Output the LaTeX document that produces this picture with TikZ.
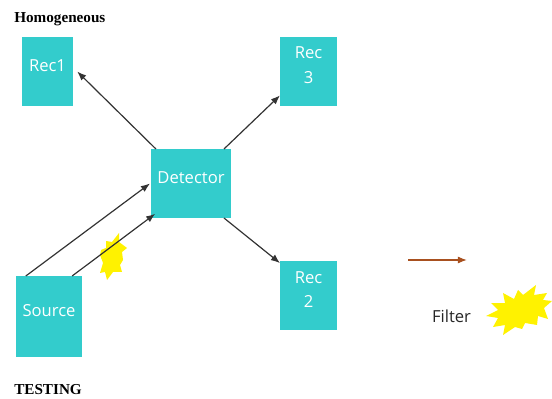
\documentclass[tikz,border=0pt]{standalone}
\usepackage{fontspec}
\setmainfont{Open Sans}
\newfontfamily\headfont{Liberation Serif}
\usetikzlibrary{positioning,arrows.meta}
\definecolor{boxteal}{HTML}{33CCCC}
\definecolor{arrowrust}{HTML}{A8501F}
\tikzset{
  box/.style={fill=boxteal, text=white, font=\fontsize{11.8}{17.7}\selectfont, align=center, inner sep=0pt, outer sep=0pt, text depth=8.5pt},
  link/.style={-{Latex[length=6.5pt,width=5pt]}, color=black!80, line width=0.85pt},
  burst/.style={fill=yellow, draw=none},
  head/.style={font=\headfont\bfseries\fontsize{10.8}{13}\selectfont, anchor=west, inner sep=0pt}
}

\begin{document}
\begin{tikzpicture}[x=0.025cm, y=-0.025cm]
  \useasboundingbox (0,0) rectangle (552,399);

  % Titles
  \node[head] (title) at (14,19) {Homogeneous};
  \node[head] (testing) at (14,390) {TESTING};

  % Boxes
  \node[box, minimum width=1.275cm, minimum height=1.725cm] (rec1) at (47.5,71.5) {Rec1};
  \node[box, minimum width=1.425cm, minimum height=1.725cm] (rec3) at (308.5,71.5) {Rec\\3};
  \node[box, minimum width=2cm, minimum height=1.725cm] (detector) at (191,183.5) {Detector};
  \node[box, minimum width=1.425cm, minimum height=1.725cm] (rec2) at (308.5,295.5) {Rec\\2};
  \node[box, minimum width=1.65cm, minimum height=2.025cm] (source) at (49,316.5) {Source};

  % Small burst on the lower beam
  \draw[burst] (101,250) -- (106,248) -- (106,241) -- (112,242) -- (119,233) -- (119,242) -- (127,248)
    -- (122,252) -- (123,260) -- (120,265) -- (122,272) -- (113,272) -- (107,280) -- (105,272)
    -- (100,273) -- (103,263) -- (100,255) -- cycle;

  % Beams
  \draw[link] ([xshift=3.5pt]detector.north west) -- ([xshift=3pt]rec1.east);
  \draw[link] ([xshift=-5pt]detector.north east) -- ([yshift=-17pt]rec3.west);
  \draw[link] ([xshift=-5pt]detector.south east) -- ([yshift=-1.5pt]rec2.north west);
  \draw[link] ([xshift=7pt]source.north west) -- ([xshift=-0.7pt]detector.west);
  \draw[link] ([xshift=-7pt]source.north east) -- ([xshift=3pt,yshift=3pt]detector.south west);

  % Legend
  \coordinate (legstart) at (408,260);
  \coordinate (legend) at (467,260);
  \draw[-{Latex[length=6.5pt,width=5pt]}, color=arrowrust, line width=0.85pt] (legstart) -- (legend);
  \node[font=\fontsize{11.8}{14}\selectfont, text=black!85] (filter) at (451.5,316) {Filter};
  \draw[burst] (486,316) -- (498,310) -- (491,303) -- (505,303) -- (503,293) -- (514,299) -- (518,290)
    -- (523,295) -- (536,285) -- (534,295) -- (547,293) -- (543,300) -- (552,301) -- (544,308)
    -- (548,319) -- (538,316) -- (537,325) -- (525,323) -- (522,329) -- (515,327) -- (503,335)
    -- (505,325) -- (493,327) -- (498,318) -- cycle;
\end{tikzpicture}
\end{document}
